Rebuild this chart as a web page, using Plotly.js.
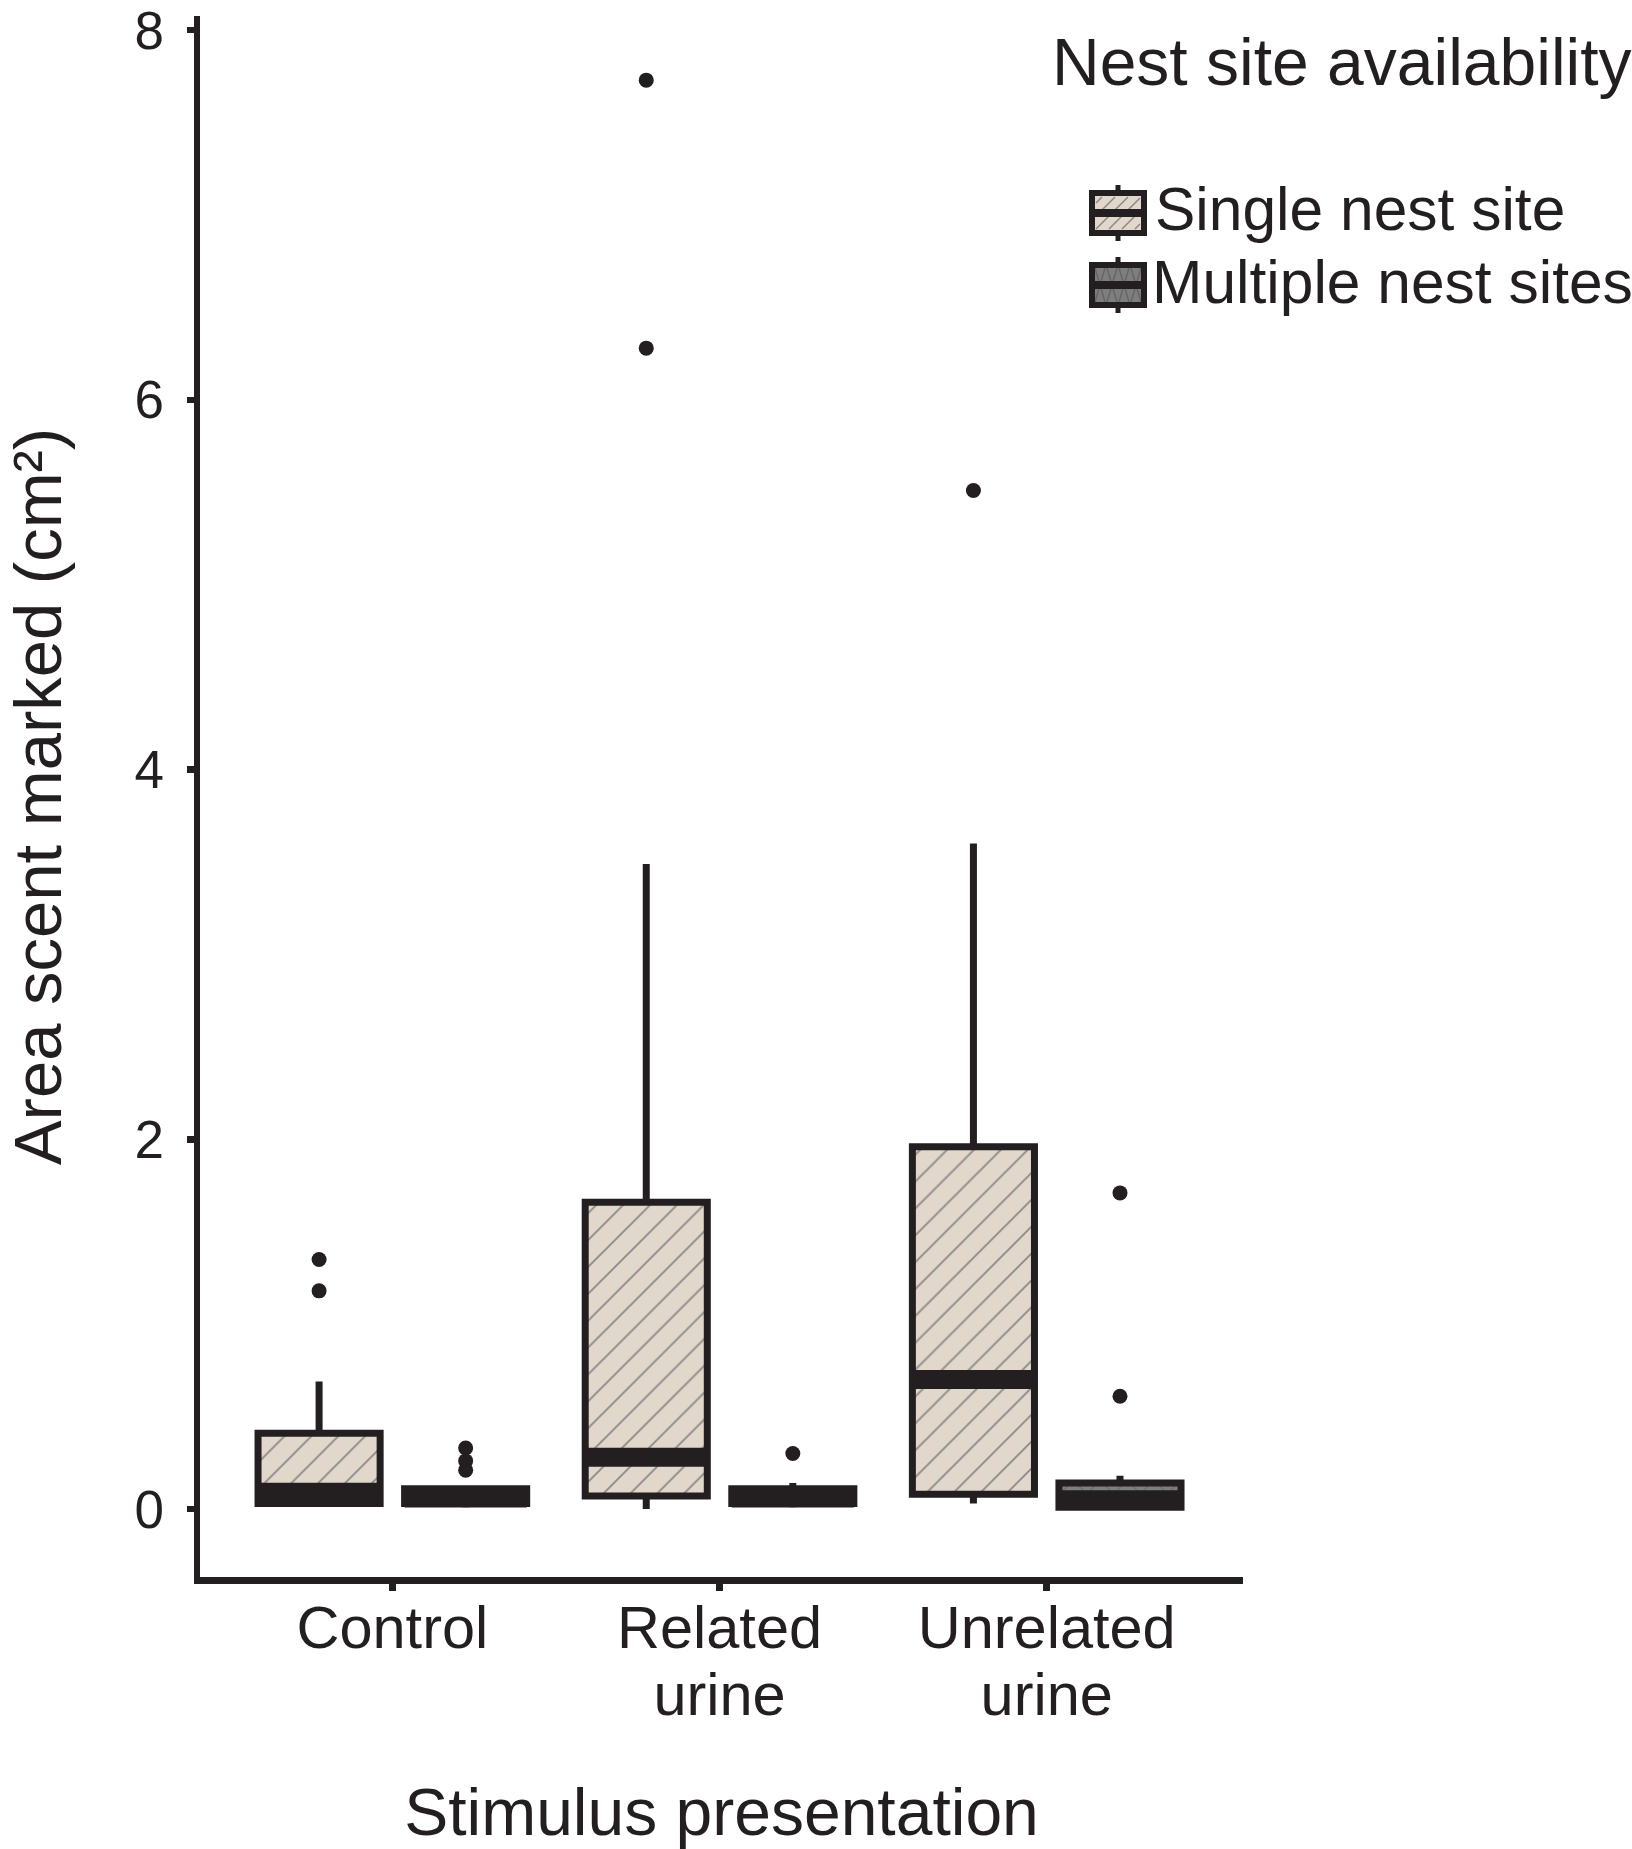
<!DOCTYPE html>
<html>
<head>
<meta charset="utf-8">
<script src="https://cdn.plot.ly/plotly-3.0.1.min.js"></script>
<style>html,body{margin:0;padding:0;background:#fff;}#chart{width:1632px;height:1849px;}</style>
</head>
<body>
<div id="chart"></div>
<script>
// ---- data ----
const categories = ['Control', 'Related urine', 'Unrelated urine'];
const tickLine1 = ['Control', 'Related', 'Unrelated'];
const tickLine2Cats = ['Related urine', 'Unrelated urine'];
const tickLine2 = ['urine', 'urine'];
const yTicks = [0, 2, 4, 6, 8];

const seriesNames = ['Single nest site', 'Multiple nest sites'];

const singleQ1 = [0.03, 0.07, 0.08];
const singleMedian = [0.09, 0.28, 0.70];
const singleQ3 = [0.41, 1.66, 1.96];
const singleLower = [0.02, 0.00, 0.03];
const singleUpper = [0.69, 3.49, 3.60];
const singleOutX = ['Control', 'Control', 'Related urine', 'Related urine', 'Unrelated urine'];
const singleOutY = [1.35, 1.18, 7.73, 6.28, 5.51];

const multipleQ1 = [0.03, 0.03, 0.01];
const multipleMedian = [0.06, 0.06, 0.05];
const multipleQ3 = [0.11, 0.11, 0.14];
const multipleLower = [0.01, 0.01, 0.00];
const multipleUpper = [0.12, 0.14, 0.18];
const multipleOutX = ['Control', 'Control', 'Control', 'Related urine', 'Unrelated urine', 'Unrelated urine'];
const multipleOutY = [0.33, 0.26, 0.21, 0.30, 1.71, 0.61];

// ---- styles ----
const INK = '#231f20';
const BEIGE = '#e2d7cb';
const GREY = '#7e7e7e';
const FONT = 'Liberation Sans, Arial, Helvetica, sans-serif';
const W = 1632, H = 1849;
const M = {l: 200, r: 389, t: 16, b: 272};
const plotW = W - M.l - M.r, plotH = H - M.t - M.b;
const px = x => (x - M.l) / plotW;
const py = y => (H - M.b - y) / plotH;

const GAP = 0.104, GROUPGAP = 0.167;
const XRANGE = [-0.588, 2.6];

function hatchBar(q1, q3, color, shape, fg, group, name) {
  return {
    type: 'bar', x: categories, y: q3.map((v, i) => v - q1[i]), base: q1,
    name: name, offsetgroup: group, showlegend: false, hoverinfo: 'skip',
    marker: {color: color, line: {width: 0},
      pattern: {shape: shape, fgcolor: fg, bgcolor: color, size: 19, solidity: 0.1, fillmode: 'replace'}}
  };
}
function boxTrace(q1, med, q3, lo, hi, group, name) {
  return {
    type: 'box', x: categories, q1: q1, median: med, q3: q3, lowerfence: lo, upperfence: hi,
    name: name, offsetgroup: group, showlegend: false, boxpoints: false, whiskerwidth: 0,
    fillcolor: 'rgba(0,0,0,0)', line: {color: INK, width: 7}, hoverinfo: 'skip'
  };
}
function medianTrace(med, group, name) {
  return {
    type: 'box', x: categories, q1: med, median: med, q3: med, lowerfence: med, upperfence: med,
    name: name + ' median', offsetgroup: group, showlegend: false, boxpoints: false, whiskerwidth: 0,
    fillcolor: 'rgba(0,0,0,0)', line: {color: INK, width: 19}, hoverinfo: 'skip'
  };
}
// outliers are drawn on the overlaying category axis x2 (same range and categories as x)
function outlierTrace(x, y, group, name) {
  return {
    type: 'scatter', mode: 'markers', x: x, y: y, xaxis: 'x2', yaxis: 'y',
    offsetgroup: group, name: name + ' outliers',
    showlegend: false, marker: {color: INK, size: 15}, hoverinfo: 'skip'
  };
}

const data = [
  hatchBar(singleQ1, singleQ3, BEIGE, '/', '#8c8c8c', 'single', seriesNames[0]),
  hatchBar(multipleQ1, multipleQ3, GREY, 'x', '#5e5e5e', 'multiple', seriesNames[1]),
  boxTrace(singleQ1, singleMedian, singleQ3, singleLower, singleUpper, 'single', seriesNames[0]),
  boxTrace(multipleQ1, multipleMedian, multipleQ3, multipleLower, multipleUpper, 'multiple', seriesNames[1]),
  medianTrace(singleMedian, 'single', seriesNames[0]),
  medianTrace(multipleMedian, 'multiple', seriesNames[1]),
  outlierTrace(singleOutX, singleOutY, 'single', seriesNames[0]),
  outlierTrace(multipleOutX, multipleOutY, 'multiple', seriesNames[1])
];

// ---- custom legend (key glyphs as shapes, text as annotations) ----
function P(x, y) { return px(x).toFixed(5) + ',' + py(y).toFixed(5); }
function diagHatch(x0, x1, y0, y1) {
  let p = '';
  const a = x0 + 4, b = x1 - 4, top = y0 + 4, bot = y1 - 4, h = bot - top;
  for (let k = a - h + 6; k < b; k += 13) {
    const sx = Math.max(a, k), ex = Math.min(b, k + h);
    if (ex <= sx) continue;
    p += 'M' + P(sx, bot - (sx - k)) + 'L' + P(ex, bot - (ex - k)) + ' ';
  }
  return p;
}
function crossHatch(x0, x1, y0, y1) {
  let p = '';
  for (let k = x0 + 3; k < x1 - 10; k += 12) {
    p += 'M' + P(k, y1 - 3) + 'L' + P(k + 10, y0 + 3) + ' ';
    p += 'M' + P(k, y0 + 3) + 'L' + P(k + 10, y1 - 3) + ' ';
  }
  return p;
}
function legendKey(top, fill, hatch, hatchColor) {
  const x0 = 1092, x1 = 1144, xc = (x0 + x1) / 2;
  const y0 = top + 8, y1 = top + 48, ym = (y0 + y1) / 2;
  const s = [];
  s.push({type: 'rect', xref: 'paper', yref: 'paper', x0: px(x0), x1: px(x1), y0: py(y0), y1: py(y1),
    fillcolor: fill, line: {width: 0}, layer: 'above'});
  s.push({type: 'path', xref: 'paper', yref: 'paper', path: hatch(x0, x1, y0, y1),
    line: {color: hatchColor, width: 1.5}, layer: 'above'});
  s.push({type: 'rect', xref: 'paper', yref: 'paper', x0: px(x0), x1: px(x1), y0: py(y0), y1: py(y1),
    fillcolor: 'rgba(0,0,0,0)', line: {color: INK, width: 6}, layer: 'above'});
  s.push({type: 'line', xref: 'paper', yref: 'paper', x0: px(x0), x1: px(x1), y0: py(ym), y1: py(ym),
    line: {color: INK, width: 8}, layer: 'above'});
  s.push({type: 'line', xref: 'paper', yref: 'paper', x0: px(xc), x1: px(xc), y0: py(top), y1: py(y0),
    line: {color: INK, width: 5}, layer: 'above'});
  s.push({type: 'line', xref: 'paper', yref: 'paper', x0: px(xc), x1: px(xc), y0: py(y1), y1: py(y1 + 8),
    line: {color: INK, width: 5}, layer: 'above'});
  return s;
}

const shapes = [].concat(legendKey(185, BEIGE, diagHatch, '#8a8a8a'), legendKey(257, GREY, crossHatch, '#666666'));

const annotations = [
  {text: 'Nest site availability', xref: 'paper', yref: 'paper', x: px(1634), y: py(62),
   xanchor: 'right', yanchor: 'middle', showarrow: false, font: {family: FONT, size: 66, color: INK}},
  {text: seriesNames[0], xref: 'paper', yref: 'paper', x: px(1153), y: py(209),
   xanchor: 'left', yanchor: 'middle', showarrow: false, font: {family: FONT, size: 60.5, color: INK}},
  {text: seriesNames[1], xref: 'paper', yref: 'paper', x: px(1150), y: py(282),
   xanchor: 'left', yanchor: 'middle', showarrow: false, font: {family: FONT, size: 60.5, color: INK}}
];

const tickFontX = {family: FONT, size: 59.5, color: INK};

const layout = {
  width: W, height: H,
  margin: M,
  paper_bgcolor: '#ffffff', plot_bgcolor: '#ffffff',
  font: {family: FONT, color: INK},
  showlegend: false,
  barmode: 'group', bargap: GAP, bargroupgap: GROUPGAP,
  boxmode: 'group', boxgap: GAP, boxgroupgap: GROUPGAP,
  scattermode: 'group', scattergap: GAP,
  xaxis: {
    type: 'category', categoryorder: 'array', categoryarray: categories,
    tickvals: categories, ticktext: tickLine1,
    range: XRANGE, showline: true, linecolor: INK, linewidth: 6.5,
    ticks: 'outside', ticklen: 7, tickwidth: 6.5, tickcolor: INK,
    showgrid: false, zeroline: false, fixedrange: true,
    tickfont: tickFontX, ticklabelstandoff: -14,
    title: {text: 'Stimulus presentation', font: {family: FONT, size: 66, color: INK}, standoff: 131}
  },
  xaxis2: {
    type: 'category', categoryorder: 'array', categoryarray: categories,
    overlaying: 'x', anchor: 'y', side: 'bottom',
    tickvals: tickLine2Cats, ticktext: tickLine2,
    range: XRANGE, showline: true, linecolor: 'rgba(0,0,0,0)', linewidth: 6.5,
    ticks: 'outside', ticklen: 7, tickwidth: 6.5, tickcolor: 'rgba(0,0,0,0)',
    showgrid: false, zeroline: false, fixedrange: true,
    tickfont: tickFontX, ticklabelstandoff: 53
  },
  yaxis: {
    range: [-0.368, 8.077], tickvals: yTicks, ticktext: yTicks.map(String),
    showline: true, linecolor: INK, linewidth: 6.5,
    ticks: 'outside', ticklen: 7, tickwidth: 6.5, tickcolor: INK,
    showgrid: false, zeroline: false, fixedrange: true,
    tickfont: {family: FONT, size: 53, color: INK}, ticklabelstandoff: 12,
    title: {text: 'Area scent marked (cm²)', font: {family: FONT, size: 67, color: INK}, standoff: 58}
  },
  shapes: shapes,
  annotations: annotations
};

Plotly.newPlot('chart', data, layout, {displayModeBar: false, staticPlot: true});
</script>
</body>
</html>
